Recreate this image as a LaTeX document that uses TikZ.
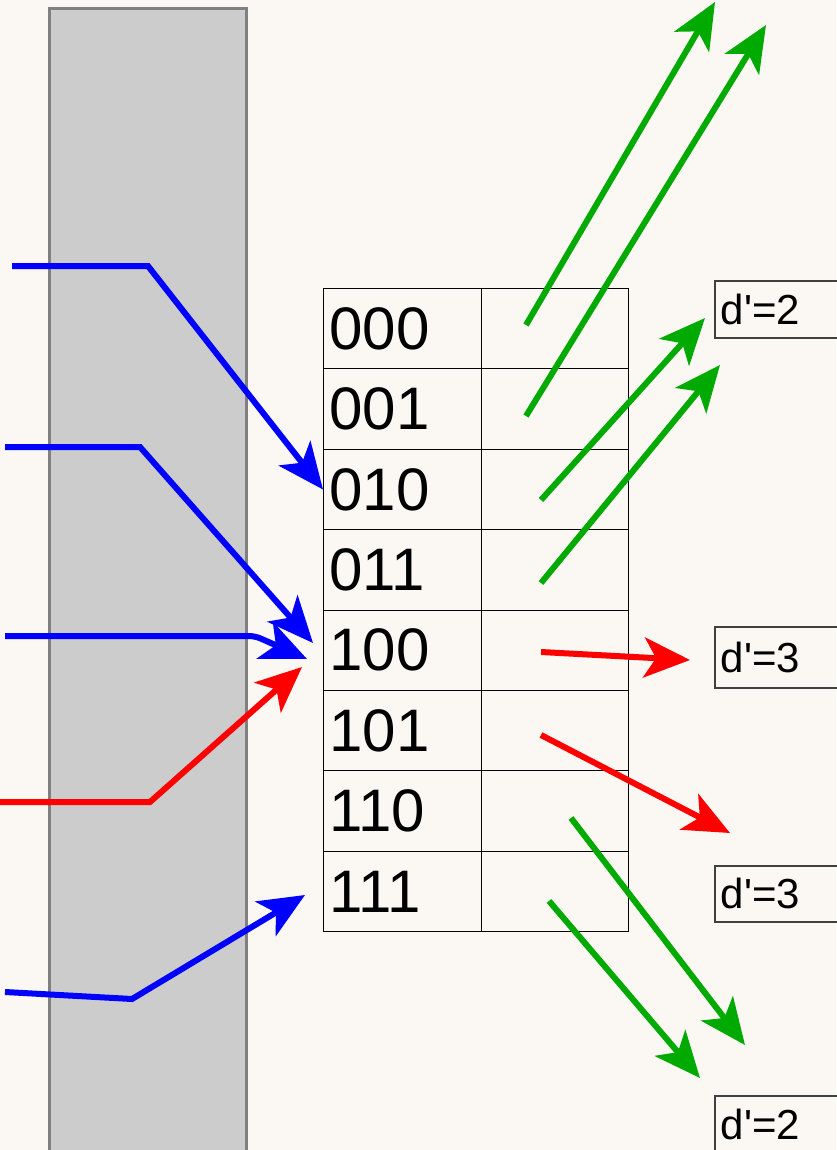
\documentclass[tikz,border=0pt]{standalone}
\usepackage{fontspec}
\setmainfont{Liberation Sans}
\usetikzlibrary{arrows.meta}
\definecolor{paper}{RGB}{251,247,243}
\definecolor{wall}{RGB}{204,204,204}
\definecolor{wallline}{RGB}{128,128,128}
\definecolor{ggreen}{RGB}{0,170,0}
\tikzset{
  cell/.style={draw, line width=1pt, minimum height=80.4pt, anchor=north west, inner ysep=0pt},
  code/.style={cell, text width=146pt, inner xsep=6pt, align=left, font=\fontsize{60}{60}\selectfont},
  slot/.style={cell, minimum width=147pt, inner xsep=0pt},
  tag/.style={draw=black!75, line width=1.5pt, anchor=north west, text width=150pt, inner xsep=6pt, inner ysep=0pt, align=left, font=\fontsize{42}{42}\selectfont},
  ptr/.style={line width=6pt, -{Stealth[length=46pt,width=40pt,inset=12pt]}},
}
\newcommand{\dist}[1]{d\textquotesingle=#1}
\begin{document}
\begin{tikzpicture}[x=1pt, y=-1pt]
	\useasboundingbox (0,0) rectangle (836,1150);
	\fill[paper] (0,0) rectangle (836,1150);
	\draw[wallline, fill=wall, line width=3pt] (49,9) rectangle (246,1170);
	% table
	\foreach \c [count=\i from 0] in {000,001,010,011,100,101,110,111} {
		\node[code] (c\i) at (323,{288+80.4*\i}) {\c};
		\node[slot] (v\i) at (481,{288+80.4*\i}) {};
	}
	\node[tag, minimum height=57pt] (d1) at (714,280) {\dist{2}};
	\node[tag, minimum height=61pt] (d2) at (714,626) {\dist{3}};
	\node[tag, minimum height=56pt] (d3) at (714,865) {\dist{3}};
	\node[tag, minimum height=57pt] (d4) at (714,1095) {\dist{2}};
	% free ends
	\coordinate (b1) at (12,266);
	\coordinate (b2) at (5,447);
	\coordinate (b3) at (5,636);
	\coordinate (r1) at (0,802);
	\coordinate (b4) at (5,992);
	\coordinate (t2) at (313,643);
	\coordinate (t3) at (307,659);
	\coordinate (t4) at (302,667);
	\coordinate (t7) at (305,895);
	\draw[ptr, blue] (b1) -- (148,266) -- (c2.west);
	\draw[ptr, blue] (b2) -- (140,447) -- (t2);
	\draw[ptr, blue, rounded corners=6pt] (b3) -- (255,636) -- (t3);
	\draw[ptr, red] (r1) -- (150,802) -- (t4);
	\draw[ptr, blue] (b4) -- (132,999) -- (t7);
	% outgoing
	\coordinate (g0) at (526,325);   \coordinate (h0) at (715,2);
	\coordinate (g1) at (526,416);   \coordinate (h1) at (766,25);
	\coordinate (g2) at (541,500);   \coordinate (h2) at (705,318);
	\coordinate (g3) at (541,583);   \coordinate (h3) at (720,365);
	\coordinate (g4) at (541,652);   \coordinate (h4) at (690,660);
	\coordinate (g5) at (541,735);   \coordinate (h5) at (730,833);
	\coordinate (g6) at (571,818);   \coordinate (h6) at (745,1045);
	\coordinate (g7) at (549,901);   \coordinate (h7) at (700,1078);
	\foreach \i in {0,1,2,3,6,7}
		\draw[ptr, ggreen] (g\i) -- (h\i);
	\foreach \i in {4,5}
		\draw[ptr, red] (g\i) -- (h\i);
\end{tikzpicture}
\end{document}
